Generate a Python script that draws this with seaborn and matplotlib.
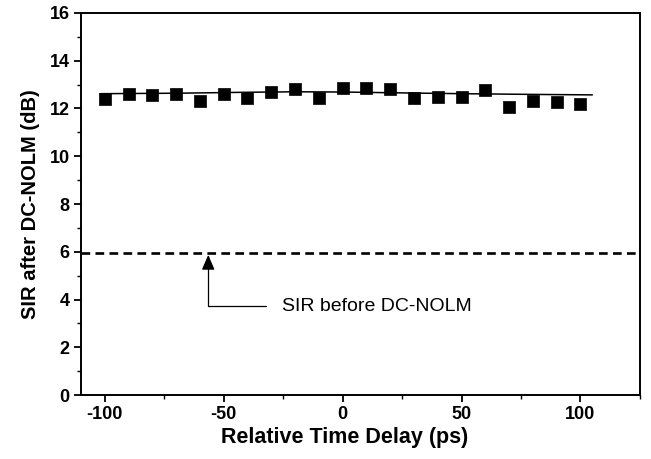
import matplotlib
matplotlib.use("Agg")
import matplotlib.pyplot as plt
import seaborn as sns
import pandas as pd
from matplotlib.ticker import MultipleLocator

# ---- data ----
delay_ps = [-100, -90, -80, -70, -60, -50, -40, -30, -20, -10, 0,
            10, 20, 30, 40, 50, 60, 70, 80, 90, 100]
sir_after_db = [12.40, 12.59, 12.57, 12.59, 12.33, 12.59, 12.43, 12.68, 12.82, 12.45, 12.87,
                12.85, 12.82, 12.45, 12.49, 12.47, 12.78, 12.05, 12.31, 12.26, 12.18]
# smooth trend curve as drawn in the reference
trend_x = [-102, -70, -40, -20, 0, 20, 50, 80, 105]
trend_y = [12.62, 12.64, 12.68, 12.70, 12.69, 12.66, 12.62, 12.59, 12.57]
sir_before_db = 5.95
annotation_text = "SIR before DC-NOLM"
x_label = "Relative Time Delay (ps)"
y_label = "SIR after DC-NOLM (dB)"

df = pd.DataFrame({"delay": delay_ps, "sir": sir_after_db})
trend = pd.DataFrame({"delay": trend_x, "sir": trend_y})

sns.set_theme(style="ticks")
plt.rcParams["font.family"] = ["Liberation Sans", "DejaVu Sans"]
plt.rcParams["axes.unicode_minus"] = False
plt.rcParams["text.color"] = "black"
plt.rcParams["axes.labelcolor"] = "black"
plt.rcParams["xtick.color"] = "black"
plt.rcParams["ytick.color"] = "black"

fig = plt.figure(figsize=(6.51, 4.59), dpi=100)
ax = fig.add_axes([0.1244, 0.1394, 0.8586, 0.8323])

sns.lineplot(data=trend, x="delay", y="sir", color="black", linewidth=1.1,
             sort=True, ax=ax)
sns.scatterplot(data=df, x="delay", y="sir", marker="s", s=72, color="black",
                edgecolor="black", linewidth=0.5, ax=ax, zorder=3)

ax.axhline(sir_before_db, color="black", linewidth=1.9, linestyle=(0, (3.3, 2.0)))

ax.annotate(annotation_text, xy=(-56.5, sir_before_db - 0.08), xytext=(-25.5, 3.72),
            fontsize=14, va="center", ha="left", color="black",
            arrowprops=dict(arrowstyle="-|>,head_length=0.65,head_width=0.28",
                            connectionstyle="angle,angleA=0,angleB=90,rad=0",
                            color="black", linewidth=0.9, shrinkA=9, shrinkB=0))

ax.set_xlim(-110, 125)
ax.set_ylim(0, 16)
ax.xaxis.set_major_locator(MultipleLocator(50))
ax.xaxis.set_minor_locator(MultipleLocator(25))
ax.yaxis.set_major_locator(MultipleLocator(2))
ax.yaxis.set_minor_locator(MultipleLocator(1))
ax.tick_params(which="major", direction="out", length=5, width=1.3, colors="black",
               labelsize=13, pad=3)
ax.tick_params(which="minor", direction="out", length=3, width=1.0, colors="black")
for lab in ax.get_xticklabels() + ax.get_yticklabels():
    lab.set_fontweight("bold")

for sp in ax.spines.values():
    sp.set_visible(True)
    sp.set_color("black")
    sp.set_linewidth(1.4)

ax.set_xlabel(x_label, fontsize=15.5, fontweight="bold")
ax.set_ylabel(y_label, fontsize=14.5, fontweight="bold", labelpad=7)
ax.xaxis.set_label_coords(0.472, -0.083, transform=ax.transAxes)
ax.xaxis.label.set_va("top")

fig.savefig("out.png", dpi=100, facecolor="white")
